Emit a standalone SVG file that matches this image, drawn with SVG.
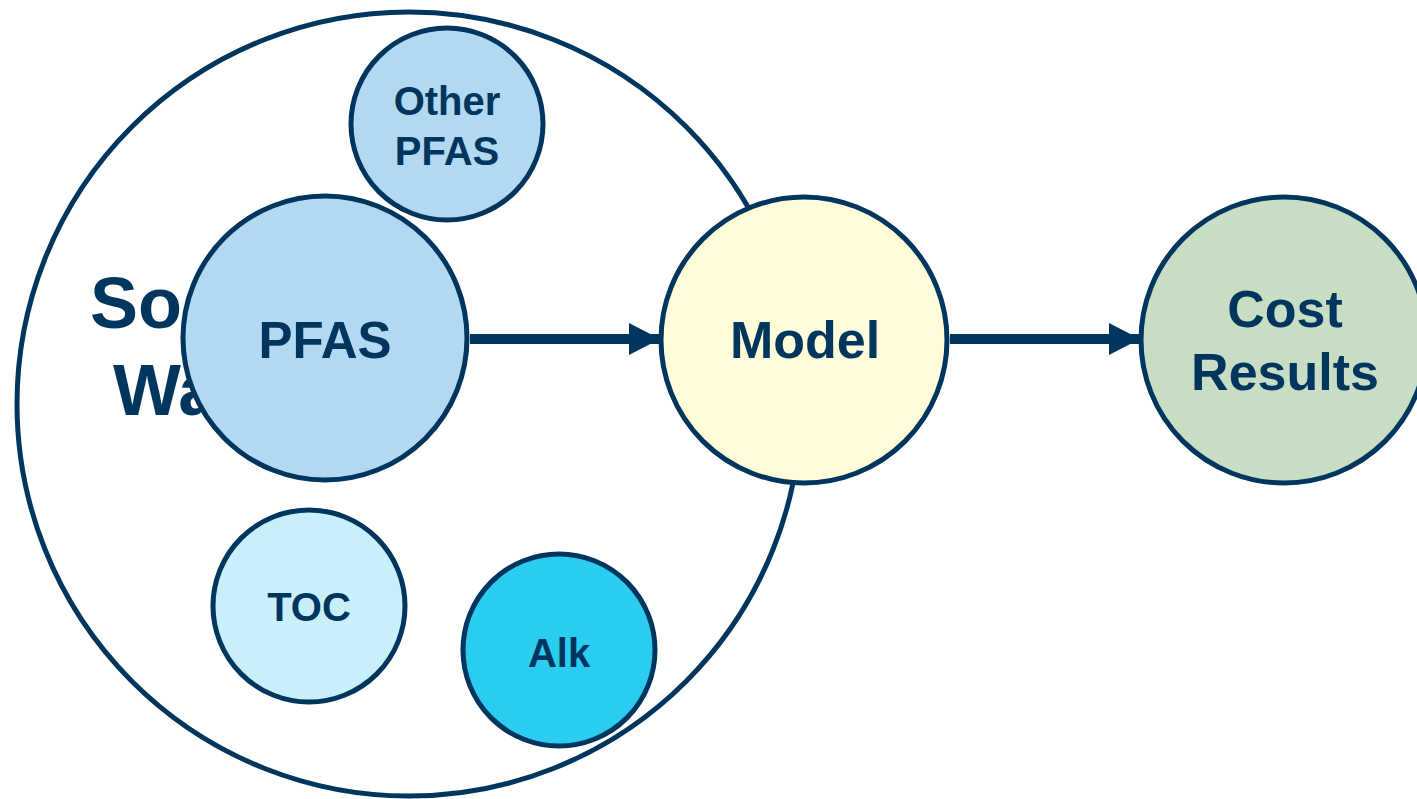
<svg xmlns="http://www.w3.org/2000/svg" width="1417" height="799" viewBox="0 0 1417 799">
<defs>
<style>
.c{stroke:#00365E;stroke-width:5}
.t{font-family:"Liberation Sans",Arial,sans-serif;font-weight:bold;fill:#00365E;text-anchor:middle}
.s{font-family:"Liberation Sans",Arial,sans-serif;font-weight:bold;fill:#00365E}
.l{stroke:#00365E;stroke-width:10;fill:none}
</style>
<marker id="ah" markerUnits="userSpaceOnUse" markerWidth="32" markerHeight="32" refX="31" refY="16" orient="auto">
<path d="M0,0 L31,16 L0,32 Z" fill="#00365E"/>
</marker>
</defs>
<rect width="1417" height="799" fill="#FFFFFF"/>
<g id="source-water">
<circle class="c" cx="409" cy="404" r="392" fill="#FFFFFF"/>
<text class="s" x="90" y="328" font-size="72">So</text>
<text class="s" x="113" y="415" font-size="72">Wa</text>
</g>
<g id="other-pfas">
<circle class="c" cx="447" cy="124" r="96" fill="#B2D8F2"/>
<text class="t" x="447" y="115" font-size="40">Other</text>
<text class="t" x="447" y="165" font-size="40">PFAS</text>
</g>
<g id="pfas">
<circle class="c" cx="325" cy="338" r="142" fill="#B2D8F2"/>
<text class="t" x="325" y="358" font-size="51">PFAS</text>
</g>
<g id="toc">
<circle class="c" cx="309" cy="606" r="96" fill="#C9F0FA"/>
<text class="t" x="309" y="621" font-size="40">TOC</text>
</g>
<g id="alk">
<circle class="c" cx="559" cy="650" r="96" fill="#2ACCF0"/>
<text class="t" x="559" y="667" font-size="40">Alk</text>
</g>
<g id="model">
<circle class="c" cx="804" cy="340" r="143" fill="#FFFDD9"/>
<text class="t" x="805" y="358" font-size="52">Model</text>
</g>
<g id="cost-results">
<circle class="c" cx="1284" cy="340" r="143" fill="#C7DEC4"/>
<text class="t" x="1285" y="327" font-size="52">Cost</text>
<text class="t" x="1285" y="390" font-size="52">Results</text>
</g>
<g id="connectors">
<line class="l" x1="470" y1="339" x2="660" y2="339" marker-end="url(#ah)"/>
<line class="l" x1="950" y1="339" x2="1140" y2="339" marker-end="url(#ah)"/>
</g>
</svg>
